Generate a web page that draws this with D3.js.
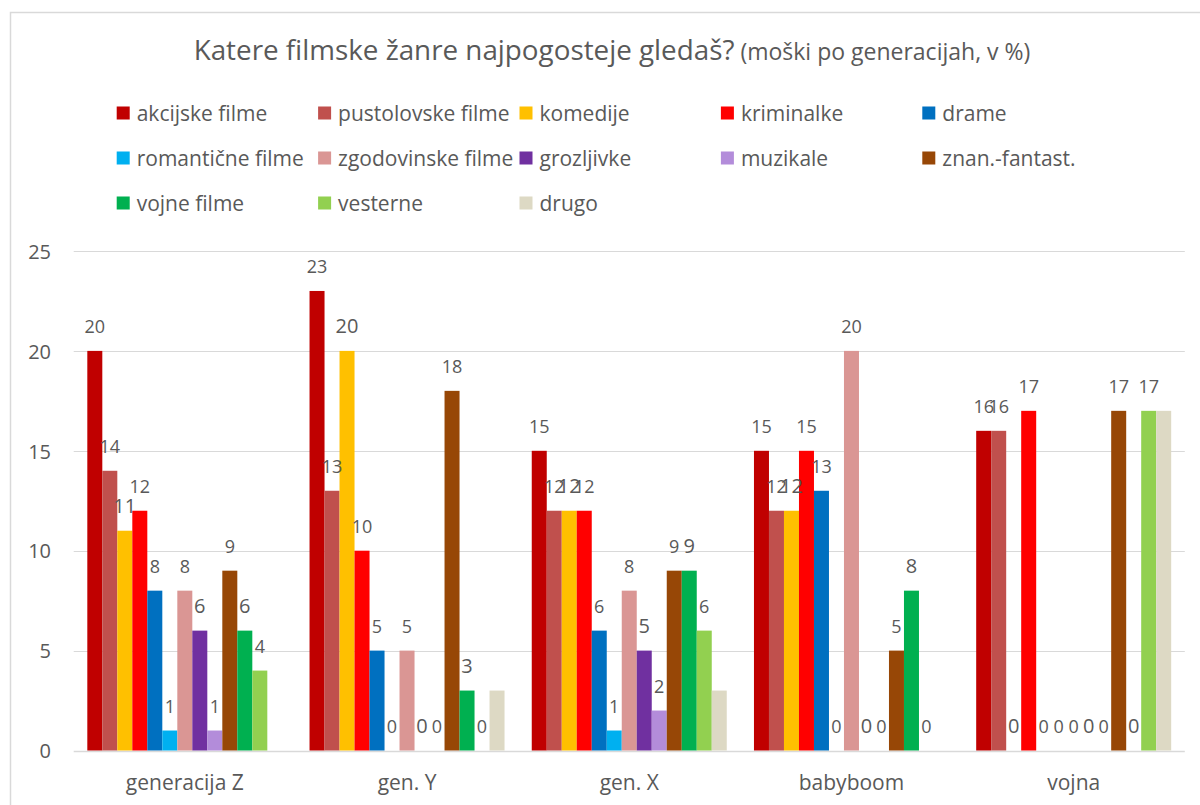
<!DOCTYPE html>
<html>
<head>
<meta charset="utf-8">
<script src="https://cdn.jsdelivr.net/npm/d3@7"></script>
<style>
  html, body { margin: 0; padding: 0; background: #ffffff; }
  svg { display: block; }
  text { font-family: "Open Sans", Lato, sans-serif; fill: #595959; }
</style>
</head>
<body>
<svg id="chart" width="1200" height="805"></svg>
<script>
// ---- data ----
const categories = ["generacija Z", "gen. Y", "gen. X", "babyboom", "vojna"];
const seriesNames = ["akcijske filme", "pustolovske filme", "komedije", "kriminalke", "drame",
  "romantične filme", "zgodovinske filme", "grozljivke", "muzikale", "znan.-fantast.",
  "vojne filme", "vesterne", "drugo"];
const akcijske    = [20, 23, 15, 15, 16];
const pustolovske = [14, 13, 12, 12, 16];
const komedije    = [11, 20, 12, 12, 0];
const kriminalke  = [12, 10, 12, 15, 17];
const drame       = [8, 5, 6, 13, 0];
const romanticne  = [1, 0, 1, 0, 0];
const zgodovinske = [8, 5, 8, 20, 0];
const grozljivke  = [6, 0, 5, 0, 0];
const muzikale    = [1, 0, 2, 0, 0];
const znanFantast = [9, 18, 9, 5, 17];
const vojne       = [6, 3, 9, 8, 0];
const vesterne    = [4, 0, 6, 0, 17];
const drugo       = [0, 3, 3, 0, 17];
const yTicks = [0, 5, 10, 15, 20, 25];
const titleMain = "Katere filmske žanre najpogosteje gledaš?";
const titleSub = "(moški po generacijah, v %)";

const seriesValues = [akcijske, pustolovske, komedije, kriminalke, drame, romanticne,
  zgodovinske, grozljivke, muzikale, znanFantast, vojne, vesterne, drugo];

// ---- styles ----
const colors = ["#C00000", "#C0504D", "#FFC000", "#FF0000", "#0070C0", "#00B0F0",
  "#DA9694", "#7030A0", "#B38CDA", "#974706", "#00B050", "#92D050", "#DDD9C4"];
const showLabel = [true, true, true, true, true, true, true, true, true, true, true, true, false];
const bigLabel  = [false, false, true, false, false, false, false, true, false, false, true, false, false];

const svg = d3.select("#chart");

// frame
svg.append("rect").attr("x", 10.5).attr("y", 12.5).attr("width", 1250).attr("height", 850)
  .attr("fill", "#ffffff").attr("stroke", "#d9d9d9").attr("stroke-width", 1.5);

// title
const title = svg.append("text").attr("x", 612).attr("y", 60).attr("text-anchor", "middle");
title.append("tspan").attr("font-size", 27.8).text(titleMain);
title.append("tspan").attr("font-size", 23).text(" " + titleSub);

// scales
const plotLeft = 73.7, plotRight = 1184.8;
const x0 = d3.scaleBand().domain(categories).range([plotLeft, plotRight]).paddingInner(0).paddingOuter(0);
const bw = x0.bandwidth();
const gap = bw - 15 * seriesNames.length;
const x1 = d3.scaleBand().domain(d3.range(seriesNames.length)).range([gap / 2, bw - gap / 2]).padding(0);
const y = d3.scaleLinear().domain([0, 25]).range([750.5, 251]);

// gridlines
svg.append("g").selectAll("line").data(yTicks).join("line")
  .attr("x1", plotLeft).attr("x2", plotRight)
  .attr("y1", d => Math.round(y(d)) + 0.5).attr("y2", d => Math.round(y(d)) + 0.5)
  .attr("stroke", "#d9d9d9").attr("stroke-width", d => d === 0 ? 1.5 : 1.2);

// y axis labels
const yAxis = d3.axisLeft(y).tickValues(yTicks).tickSize(0).tickPadding(0);
const yg = svg.append("g").attr("transform", "translate(51,0)").call(yAxis);
yg.select(".domain").remove();
yg.selectAll("text").attr("font-size", 20).attr("fill", "#595959")
  .attr("font-family", "'Open Sans', Lato, sans-serif").attr("dy", "0.36em").attr("x", 0);

// x axis labels
const xAxis = d3.axisBottom(x0).tickSize(0).tickPadding(0);
const xg = svg.append("g").attr("transform", "translate(0,750)").call(xAxis);
xg.select(".domain").remove();
xg.selectAll("text").attr("font-size", 21).attr("fill", "#595959")
  .attr("font-family", "'Open Sans', Lato, sans-serif").attr("dy", null).attr("y", 40);

// bars
const groups = svg.append("g").selectAll("g").data(categories).join("g")
  .attr("transform", d => `translate(${x0(d)},0)`);
groups.each(function(cat, ci) {
  const g = d3.select(this);
  const rows = seriesNames.map((s, si) => ({ si, v: seriesValues[si][ci] }));
  g.selectAll("rect").data(rows.filter(r => r.v > 0)).join("rect")
    .attr("x", r => x1(r.si)).attr("width", x1.bandwidth())
    .attr("y", r => y(r.v)).attr("height", r => y(0) - y(r.v))
    .attr("fill", r => colors[r.si]);
  g.selectAll("text").data(rows.filter(r => showLabel[r.si])).join("text")
    .attr("x", r => x1(r.si) + x1.bandwidth() / 2)
    .attr("y", r => y(r.v) - 17.5)
    .attr("text-anchor", "middle")
    .attr("font-size", r => bigLabel[r.si] ? 20 : 18)
    .text(r => d3.format("d")(r.v));
});

// legend
const legend = svg.append("g").selectAll("g").data(seriesNames).join("g")
  .attr("transform", (d, i) => `translate(${116.7 + (i % 5) * 201.4},${113 + Math.floor(i / 5) * 45})`);
legend.append("rect").attr("x", 0).attr("y", -6.5).attr("width", 13).attr("height", 13)
  .attr("fill", (d, i) => colors[i]);
legend.append("text").attr("x", 20).attr("y", 7.5).attr("font-size", 21).text(d => d);
</script>
</body>
</html>
